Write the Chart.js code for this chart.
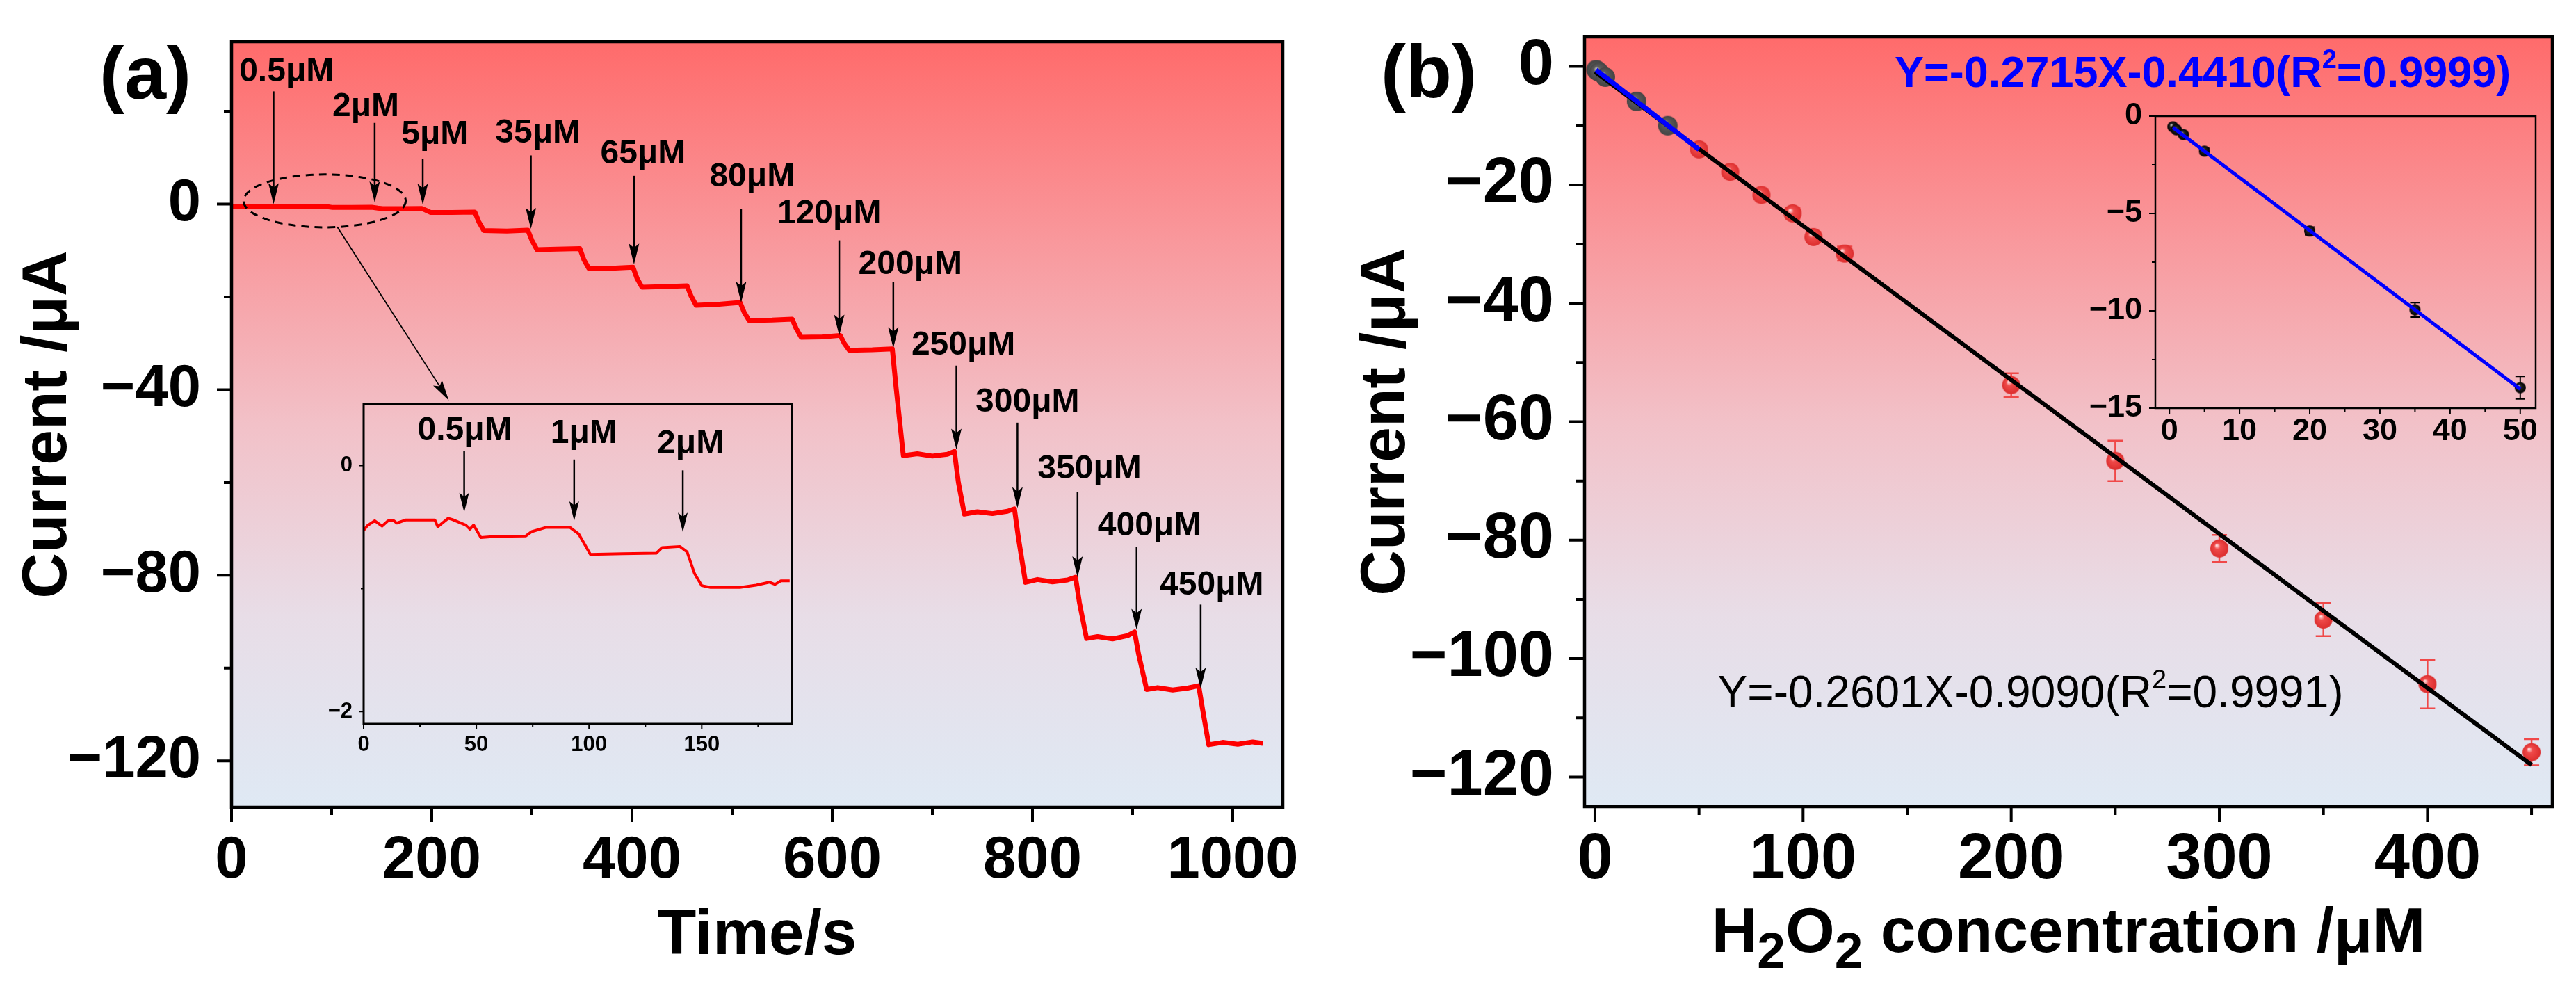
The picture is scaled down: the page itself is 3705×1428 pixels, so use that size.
<!DOCTYPE html>
<html>
<head>
<meta charset="utf-8">
<script src="https://cdn.jsdelivr.net/npm/chart.js@4.4.0/dist/chart.umd.min.js"></script>
<style>
  html, body { margin: 0; padding: 0; background: #fff; width: 3705px; height: 1428px; overflow: hidden; }
  canvas { position: absolute; }
</style>
</head>
<body>
<canvas id="chartA" width="1980" height="1428" style="left:0;top:0;width:1980px;height:1428px"></canvas>
<canvas id="insetA" width="820" height="700" style="left:400px;top:480px;width:820px;height:700px"></canvas>
<canvas id="chartB" width="1825" height="1428" style="left:1880px;top:0;width:1825px;height:1428px"></canvas>
<canvas id="insetB" width="720" height="600" style="left:2980px;top:100px;width:720px;height:600px"></canvas>
<script>
const FONT = 'Arial, "Liberation Sans", Helvetica, sans-serif';

// ---------- (a) i-t curve ----------
const timeA = [0, 10, 20, 30, 40, 46, 52, 70, 92, 97, 101, 120, 140, 146, 151, 170, 190, 194, 199, 220, 243, 247, 252, 275,
  296, 300, 305, 325, 348, 352, 357, 380, 401, 405, 410, 430, 455, 459, 464, 485, 508, 512, 517, 540, 560, 564, 569, 590,
  608, 612, 617, 640, 660, 664, 671, 685, 700, 715, 722, 726, 732, 745, 760, 775, 782, 786, 793, 805, 820, 835, 843, 847,
  854, 865, 880, 895, 902, 906, 914, 925, 940, 955, 966, 970, 976, 990, 1005, 1020, 1030];
const currentA = [-0.45, -0.45, -0.44, -0.44, -0.44, -0.5, -0.58, -0.57, -0.5, -0.6, -0.72, -0.71, -0.66, -0.85, -0.98, -0.97, -0.94, -1.3, -1.8, -1.8, -1.7, -3.8, -5.7, -5.8,
  -5.6, -7.8, -9.8, -9.7, -9.6, -12, -13.9, -13.8, -13.6, -16, -17.9, -17.8, -17.6, -19.8, -21.8, -21.6, -21.2, -23.3, -25.1, -25.0, -24.8, -26.8, -28.7, -28.6,
  -28.3, -30, -31.5, -31.4, -31.2, -40, -54.2, -53.8, -54.3, -53.9, -53.3, -60, -66.8, -66.3, -66.7, -66.2, -65.7, -72, -81.5, -80.9, -81.4, -81.0, -80.4, -86,
  -93.6, -93.2, -93.7, -93.0, -92.2, -97, -104.6, -104.2, -104.7, -104.3, -103.8, -109, -116.5, -116.0, -116.4, -115.9, -116.2];
const ticksAx = [0, 200, 400, 600, 800, 1000];
const minorAx = [100, 300, 500, 700, 900];
const ticksAy = [0, -40, -80, -120];
const minorAy = [20, -20, -60, -100];

// addition labels and arrows (time, current)
const labelsA = ['0.5μM', '2μM', '5μM', '35μM', '65μM', '80μM', '120μM', '200μM', '250μM', '300μM', '350μM', '400μM', '450μM'];
const labelTA = [55, 134, 203, 306, 411, 520, 597, 678, 731, 795, 857, 917, 979];
const labelVA = [26.5, 19, 12.9, 13.2, 8.8, 3.8, -4.1, -15, -32.5, -44.7, -59.1, -71.4, -84.2];
const arrowTA = [42, 143, 191, 299, 402, 509, 607, 661, 724, 785, 845, 904, 968];
const arrowTopA = [24.3, 17.5, 9.7, 10.5, 6.1, -1.0, -7.8, -16.7, -34.8, -47.1, -62.1, -73.9, -86.3];
const arrowTipA = [0, 0.4, -0.1, -5.3, -13.0, -21.2, -28.3, -31, -52.9, -65.5, -80.4, -91.7, -104.4];

// inset of (a): first 190 s
const insetT = [0, 1.7, 4.9, 8.2, 10.8, 13.4, 14.7, 18.6, 31.6, 32.9, 37.5, 39.4, 45.3, 47.2, 48.8, 52, 59, 72, 74.6, 81,
  91.5, 95.4, 100.6, 114.9, 129.8, 132.4, 140.3, 143.5, 146.8, 150, 153.9, 166.9, 174.1, 180, 182.5, 185.1, 189];
const insetI = [-0.527, -0.488, -0.449, -0.492, -0.449, -0.449, -0.468, -0.443, -0.443, -0.498, -0.429, -0.439, -0.484, -0.517, -0.484, -0.585, -0.576, -0.572, -0.537, -0.503,
  -0.503, -0.556, -0.722, -0.716, -0.712, -0.667, -0.658, -0.702, -0.878, -0.976, -0.991, -0.991, -0.972, -0.948, -0.966, -0.937, -0.937];
const ticksIx = [0, 50, 100, 150];
const minorIx = [25, 75, 125, 175];
const ticksIy = [0, -2];
const minorIy = [-1];
const labelsI = ['0.5μM', '1μM', '2μM'];
const labelTI = [44.9, 97.7, 145];
const labelVI = [0.205, 0.185, 0.1];
const arrowTI = [44.6, 93.4, 141.6];
const arrowTopI = [0.117, 0.049, -0.039];
const arrowTipI = [-0.38, -0.449, -0.542];

// ---------- (b) calibration ----------
const concRed = [50, 65, 80, 95, 105, 120, 200, 250, 300, 350, 400, 450];
const currRed = [-14.0, -17.8, -21.7, -24.8, -28.8, -31.6, -53.8, -66.6, -81.4, -93.4, -104.3, -115.8];
const errRed = [0.6, 0.7, 0.7, 0.9, 0.9, 1.2, 2.0, 3.4, 2.3, 2.8, 4.1, 2.2];
const concGrey = [0.5, 1, 2, 5, 20, 35];
const currGrey = [-0.55, -0.7, -0.95, -1.8, -5.9, -10.0];
const fitBlackX = [0, 450];
const fitBlackY = [-0.91, -117.95];
const fitBlueX = [0.5, 50];
const fitBlueY = [-0.58, -14.02];
const ticksBx = [0, 100, 200, 300, 400];
const minorBx = [50, 150, 250, 350, 450];
const ticksBy = [0, -20, -40, -60, -80, -100, -120];
const minorBy = [-10, -30, -50, -70, -90, -110];

// inset of (b): low range
const concIn = [0.5, 1, 2, 5, 20, 35, 50];
const currIn = [-0.55, -0.7, -0.95, -1.8, -5.9, -9.95, -13.95];
const errIn = [0.05, 0.05, 0.08, 0.15, 0.2, 0.37, 0.58];
const ticksJx = [0, 10, 20, 30, 40, 50];
const minorJx = [5, 15, 25, 35, 45];
const ticksJy = [0, -5, -10, -15];
const minorJy = [-2.5, -7.5, -12.5];

const bgStops = [[0, 'rgb(255,107,107)'], [0.25, 'rgb(249,150,154)'], [0.5, 'rgb(242,193,200)'], [0.75, 'rgb(232,221,231)'], [1, 'rgb(223,233,244)']];

const fmt = v => (v < 0 ? '\u2212' + Math.abs(v) : String(v));
const pts = (xs, ys) => xs.map((x, i) => ({ x: x, y: ys[i] }));

function ball(r, c0, c1, c2) {
  const cv = document.createElement('canvas');
  cv.width = cv.height = 2 * r + 2;
  const g = cv.getContext('2d');
  const grd = g.createRadialGradient(r + 1 - r * 0.3, r + 1 - r * 0.35, r * 0.05, r + 1, r + 1, r);
  grd.addColorStop(0, c0);
  grd.addColorStop(0.3, c1);
  grd.addColorStop(1, c2);
  g.fillStyle = grd;
  g.beginPath();
  g.arc(r + 1, r + 1, r, 0, Math.PI * 2);
  g.fill();
  return cv;
}
const ballRed = ball(13, '#ffe4e4', '#f04a4a', '#dc2e2e');
const ballGrey = ball(14, '#b8b8b8', '#5c5c5c', '#444');
const ballBlack = ball(8, '#cfcfcf', '#262626', '#000');

function arrow(ctx, x1, y1, x2, y2, lw, hl, hw) {
  const ang = Math.atan2(y2 - y1, x2 - x1);
  ctx.save();
  ctx.strokeStyle = '#000';
  ctx.fillStyle = '#000';
  ctx.lineWidth = lw;
  ctx.beginPath();
  ctx.moveTo(x1, y1);
  ctx.lineTo(x2 - Math.cos(ang) * hl * 0.7, y2 - Math.sin(ang) * hl * 0.7);
  ctx.stroke();
  ctx.translate(x2, y2);
  ctx.rotate(ang);
  ctx.beginPath();
  ctx.moveTo(0, 0);
  ctx.lineTo(-hl, -hw / 2);
  ctx.lineTo(-hl * 0.8, 0);
  ctx.lineTo(-hl, hw / 2);
  ctx.closePath();
  ctx.fill();
  ctx.restore();
}

// parts: [text, scale, shift]  (shift in em, negative = raised)
function rich(ctx, parts, x, y, size, weight, color, align) {
  ctx.save();
  ctx.fillStyle = color;
  ctx.textBaseline = 'alphabetic';
  ctx.textAlign = 'left';
  const fontFor = s => weight + ' ' + Math.round(size * s) + 'px ' + FONT;
  let w = 0;
  parts.forEach(([t, s]) => { ctx.font = fontFor(s); w += ctx.measureText(t).width; });
  let cx = align === 'center' ? x - w / 2 : x;
  parts.forEach(([t, s, d]) => {
    ctx.font = fontFor(s);
    ctx.fillText(t, cx, y + (d || 0) * size);
    cx += ctx.measureText(t).width;
  });
  ctx.restore();
}

function text(ctx, t, x, y, font, align, baseline, rot) {
  ctx.save();
  ctx.fillStyle = '#000';
  ctx.font = font;
  ctx.textAlign = align;
  ctx.textBaseline = baseline;
  ctx.translate(x, y);
  if (rot) ctx.rotate(rot);
  ctx.fillText(t, 0, 0);
  ctx.restore();
}

// frame, outward major/minor ticks, optional gradient background
function decor(cfg) {
  return {
    id: 'decor',
    beforeDraw(chart) {
      if (!cfg.gradient) return;
      const a = chart.chartArea, ctx = chart.ctx;
      const g = ctx.createLinearGradient(0, a.top, 0, a.bottom);
      bgStops.forEach(([o, c]) => g.addColorStop(o, c));
      ctx.save();
      ctx.fillStyle = g;
      ctx.fillRect(a.left, a.top, a.right - a.left, a.bottom - a.top);
      ctx.restore();
    },
    beforeDatasetsDraw(chart) { if (cfg.under) cfg.under(chart); },
    afterDraw(chart) {
      const a = chart.chartArea, ctx = chart.ctx, sx = chart.scales.x, sy = chart.scales.y;
      ctx.save();
      ctx.strokeStyle = '#000';
      ctx.lineWidth = cfg.tickW;
      ctx.beginPath();
      const xt = (vals, len) => vals.forEach(v => { const p = sx.getPixelForValue(v); ctx.moveTo(p, a.bottom); ctx.lineTo(p, a.bottom + len); });
      const yt = (vals, len) => vals.forEach(v => { const p = sy.getPixelForValue(v); ctx.moveTo(a.left, p); ctx.lineTo(a.left - len, p); });
      xt(cfg.xMajor, cfg.major); xt(cfg.xMinor, cfg.minor);
      yt(cfg.yMajor, cfg.major); yt(cfg.yMinor, cfg.minor);
      ctx.stroke();
      ctx.lineWidth = cfg.frameW;
      ctx.strokeRect(a.left, a.top, a.right - a.left, a.bottom - a.top);
      ctx.restore();
      if (cfg.over) cfg.over(chart);
    }
  };
}

// fixed axis boxes; the label overflow padding is zeroed so the plot area lands where the layout padding says
function axes(o) {
  const tickFont = { family: FONT, size: o.size, weight: 'bold', lineHeight: 1.2 };
  return {
    x: {
      type: 'linear', min: o.xMin, max: o.xMax,
      grid: { display: false, drawTicks: false }, border: { display: false },
      afterBuildTicks: s => { s.ticks = o.xTicks.map(v => ({ value: v })); },
      afterFit: s => { s.height = o.xH; s.paddingLeft = 0; s.paddingRight = 0; },
      ticks: { font: tickFont, color: '#000', padding: o.xPad, maxRotation: 0, autoSkip: false, callback: fmt }
    },
    y: {
      type: 'linear', min: o.yMin, max: o.yMax,
      grid: { display: false, drawTicks: false }, border: { display: false },
      afterBuildTicks: s => { s.ticks = o.yTicks.map(v => ({ value: v })); },
      afterFit: s => { s.width = o.yW; s.paddingTop = 0; s.paddingBottom = 0; },
      ticks: { font: tickFont, color: '#000', padding: o.yPad, autoSkip: false, callback: fmt }
    }
  };
}

const base = {
  responsive: false, animation: false, devicePixelRatio: 1,
  plugins: { legend: { display: false }, tooltip: { enabled: false } }
};

// ---------- chart (a) ----------
new Chart(document.getElementById('chartA'), {
  type: 'line',
  data: {
    datasets: [{
      data: pts(timeA, currentA), borderColor: '#ff0000', borderWidth: 7,
      pointRadius: 0, tension: 0, borderJoinStyle: 'round', fill: false
    }]
  },
  options: Object.assign({}, base, {
    layout: { padding: { left: 0, top: 60, right: 135, bottom: 0 } },
    scales: axes({ xMin: 0, xMax: 1050, yMin: -130, yMax: 35, xTicks: ticksAx, yTicks: ticksAy,
      size: 85, xH: 267, yW: 333, xPad: 27, yPad: 44 })
  }),
  plugins: [decor({
    gradient: true, tickW: 4, frameW: 4.5, major: 21, minor: 11,
    xMajor: ticksAx, xMinor: minorAx, yMajor: ticksAy, yMinor: minorAy,
    over(chart) {
      const a = chart.chartArea, ctx = chart.ctx, sx = chart.scales.x, sy = chart.scales.y;
      const X = v => sx.getPixelForValue(v), Y = v => sy.getPixelForValue(v);
      text(ctx, '(a)', 143, 142, 'bold 108px ' + FONT, 'left', 'alphabetic');
      text(ctx, 'Current /μA', 70, (a.top + a.bottom) / 2, 'bold 91px ' + FONT, 'center', 'middle', -Math.PI / 2);
      text(ctx, 'Time/s', (a.left + a.right) / 2, 1372, 'bold 91px ' + FONT, 'center', 'alphabetic');
      labelsA.forEach((t, i) => {
        text(ctx, t, X(labelTA[i]), Y(labelVA[i]), 'bold 48px ' + FONT, 'center', 'alphabetic');
        arrow(ctx, X(arrowTA[i]), Y(arrowTopA[i]), X(arrowTA[i]), Y(arrowTipA[i]), 2.5, 30, 15);
      });
      // dashed ellipse around the first additions
      ctx.save();
      ctx.setLineDash([11, 8]);
      ctx.lineWidth = 3;
      ctx.strokeStyle = '#000';
      ctx.beginPath();
      ctx.ellipse(X(93), Y(0.7), X(93) - X(12), Y(-5) - Y(0.7), 0, 0, Math.PI * 2);
      ctx.stroke();
      ctx.restore();
      arrow(ctx, X(105.6), Y(-4.9), X(217), Y(-42.3), 1.8, 30, 15);
    }
  })]
});

// ---------- inset of (a) ----------
new Chart(document.getElementById('insetA'), {
  type: 'line',
  data: {
    datasets: [{
      data: pts(insetT, insetI), borderColor: '#ff0000', borderWidth: 4,
      pointRadius: 0, tension: 0, borderJoinStyle: 'round', fill: false
    }]
  },
  options: Object.assign({}, base, {
    layout: { padding: { left: 0, top: 101, right: 81, bottom: 0 } },
    scales: axes({ xMin: 0, xMax: 190, yMin: -2.1, yMax: 0.5, xTicks: ticksIx, yTicks: ticksIy,
      size: 31, xH: 139, yW: 123, xPad: 12, yPad: 16 })
  }),
  plugins: [decor({
    gradient: false, tickW: 2, frameW: 3, major: 7, minor: 4,
    xMajor: ticksIx, xMinor: minorIx, yMajor: ticksIy, yMinor: minorIy,
    over(chart) {
      const ctx = chart.ctx, sx = chart.scales.x, sy = chart.scales.y;
      const X = v => sx.getPixelForValue(v), Y = v => sy.getPixelForValue(v);
      labelsI.forEach((t, i) => {
        text(ctx, t, X(labelTI[i]), Y(labelVI[i]), 'bold 48px ' + FONT, 'center', 'alphabetic');
        arrow(ctx, X(arrowTI[i]), Y(arrowTopI[i]), X(arrowTI[i]), Y(arrowTipI[i]), 2.5, 28, 14);
      });
    }
  })]
});

function errorBars(chart, xs, ys, es, color, lw, cap) {
  const ctx = chart.ctx, sx = chart.scales.x, sy = chart.scales.y;
  ctx.save();
  ctx.strokeStyle = color;
  ctx.lineWidth = lw;
  ctx.beginPath();
  xs.forEach((x, i) => {
    const px = sx.getPixelForValue(x), y1 = sy.getPixelForValue(ys[i] + es[i]), y2 = sy.getPixelForValue(ys[i] - es[i]);
    ctx.moveTo(px, y1); ctx.lineTo(px, y2);
    ctx.moveTo(px - cap, y1); ctx.lineTo(px + cap, y1);
    ctx.moveTo(px - cap, y2); ctx.lineTo(px + cap, y2);
  });
  ctx.stroke();
  ctx.restore();
}

// ---------- chart (b) ----------
new Chart(document.getElementById('chartB'), {
  type: 'line',
  data: {
    datasets: [
      { data: pts(fitBlueX, fitBlueY), borderColor: '#0000ff', borderWidth: 7, pointRadius: 0, tension: 0, fill: false },
      { data: pts(fitBlackX, fitBlackY), borderColor: '#000000', borderWidth: 6, pointRadius: 0, tension: 0, fill: false },
      { data: pts(concRed, currRed), showLine: false, pointStyle: ballRed, pointRadius: 13 },
      { data: pts(concGrey, currGrey), showLine: false, pointStyle: ballGrey, pointRadius: 14 }
    ]
  },
  options: Object.assign({}, base, {
    layout: { padding: { left: 0, top: 53, right: 34, bottom: 0 } },
    scales: axes({ xMin: -5, xMax: 460, yMin: -125, yMax: 5, xTicks: ticksBx, yTicks: ticksBy,
      size: 92, xH: 268, yW: 399, xPad: 22, yPad: 44 })
  }),
  plugins: [decor({
    gradient: true, tickW: 4, frameW: 4.5, major: 22, minor: 12,
    xMajor: ticksBx, xMinor: minorBx, yMajor: ticksBy, yMinor: minorBy,
    under(chart) { errorBars(chart, concRed, currRed, errRed, '#f04848', 2.5, 11); },
    over(chart) {
      const a = chart.chartArea, ctx = chart.ctx, sx = chart.scales.x, sy = chart.scales.y;
      const X = v => sx.getPixelForValue(v), Y = v => sy.getPixelForValue(v);
      text(ctx, '(b)', 106, 140, 'bold 108px ' + FONT, 'left', 'alphabetic');
      text(ctx, 'Current /μA', 115, (a.top + a.bottom) / 2, 'bold 91px ' + FONT, 'center', 'middle', -Math.PI / 2);
      rich(ctx, [['H', 1], ['2', 0.8, 0.25], ['O', 1], ['2', 0.8, 0.25], [' concentration /μM', 1]],
        (a.left + a.right) / 2, 1369, 91, 'bold', '#000', 'center');
      rich(ctx, [['Y=-0.2715X-0.4410(R', 1], ['2', 0.6, -0.42], ['=0.9999)', 1]], X(144), Y(-3.4), 63, 'bold', '#0000ff', 'left');
      rich(ctx, [['Y=-0.2601X-0.9090(R', 1], ['2', 0.6, -0.42], ['=0.9991)', 1]], X(59), Y(-108.2), 63.5, 'normal', '#000', 'left');
    }
  })]
});

// ---------- inset of (b) ----------
new Chart(document.getElementById('insetB'), {
  type: 'line',
  data: {
    datasets: [
      { data: pts(fitBlueX, fitBlueY), borderColor: '#0000ff', borderWidth: 5, pointRadius: 0, tension: 0, fill: false },
      { data: pts(concIn, currIn), showLine: false, pointStyle: ballBlack, pointRadius: 8 }
    ]
  },
  options: Object.assign({}, base, {
    layout: { padding: { left: 0, top: 67, right: 53, bottom: 0 } },
    scales: axes({ xMin: -2, xMax: 52.2, yMin: -15, yMax: 0, xTicks: ticksJx, yTicks: ticksJy,
      size: 45, xH: 113, yW: 120, xPad: 7, yPad: 19 })
  }),
  plugins: [decor({
    gradient: false, tickW: 2, frameW: 2.5, major: 9, minor: 5,
    xMajor: ticksJx, xMinor: minorJx, yMajor: ticksJy, yMinor: minorJy,
    under(chart) { errorBars(chart, concIn, currIn, errIn, '#000', 2, 7); }
  })]
});
</script>
</body>
</html>
